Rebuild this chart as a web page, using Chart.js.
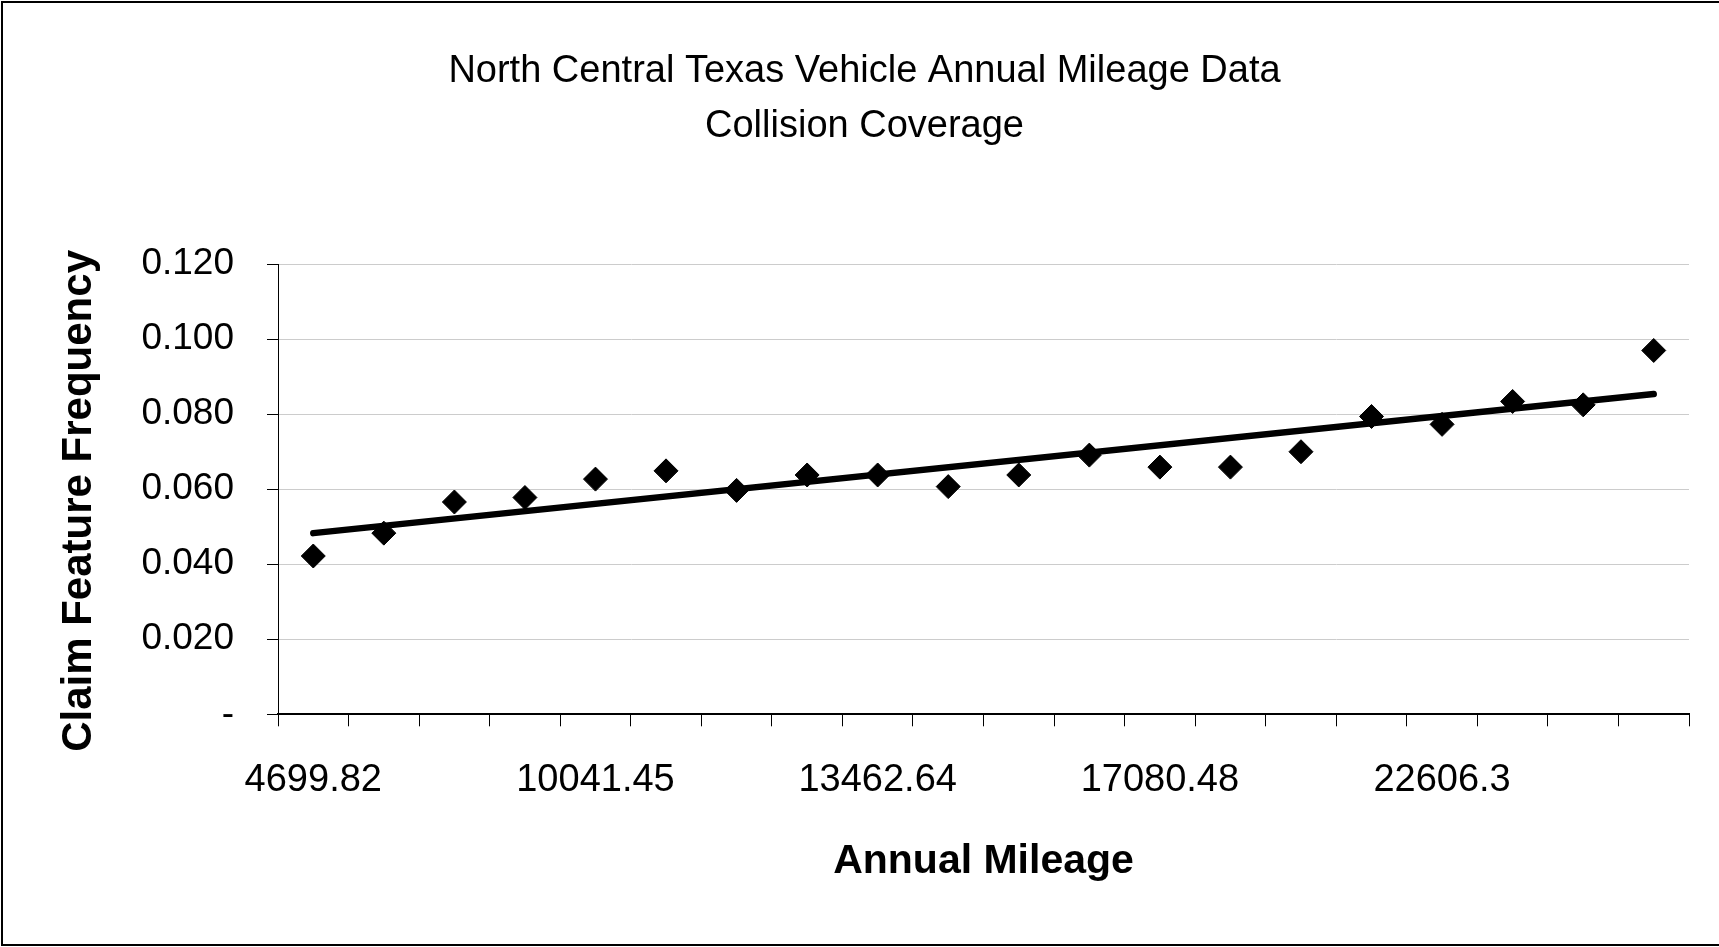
<!DOCTYPE html>
<html>
<head>
<meta charset="utf-8">
<title>North Central Texas Vehicle Annual Mileage Data</title>
<script src="https://cdn.jsdelivr.net/npm/chart.js@4/dist/chart.umd.min.js"></script>
<style>
  html, body { margin: 0; padding: 0; background: #fff; overflow: hidden; }
  #wrap { position: relative; width: 1719px; height: 947px; }
</style>
</head>
<body>
<div id="wrap"><canvas id="chartMileage"></canvas></div>
<script>
// values
const mileageLabels = [
  '4699.82', '', '', '', '10041.45', '', '', '', '13462.64', '',
  '', '', '17080.48', '', '', '', '22606.3', '', '', ''
];
const claimFrequency = [
  0.0422, 0.0483, 0.0566, 0.0578, 0.0627, 0.0649, 0.0597, 0.0638, 0.0638, 0.0607,
  0.0638, 0.0691, 0.0659, 0.0659, 0.0700, 0.0794, 0.0773, 0.0834, 0.0825, 0.0970
];
// linear trendline end points as drawn in the picture
const trendStart = 0.0483;
const trendEnd = 0.0854;
const titleLines = ['North Central Texas Vehicle Annual Mileage Data', 'Collision Coverage'];

const lastIdx = claimFrequency.length - 1;
const trendLine = claimFrequency.map((v, i) => (i === 0 ? trendStart : i === lastIdx ? trendEnd : null));

// outer frame like the original export (no right edge visible)
const frameBorder = {
  id: 'frameBorder',
  afterDraw(chart) {
    const ctx = chart.ctx;
    ctx.save();
    ctx.strokeStyle = '#000';
    ctx.lineWidth = 2;
    ctx.beginPath();
    ctx.moveTo(chart.width + 4, 2);
    ctx.lineTo(2, 2);
    ctx.lineTo(2, 945);
    ctx.lineTo(chart.width + 4, 945);
    ctx.stroke();
    ctx.restore();
  }
};

Chart.defaults.font.family = "'Liberation Sans', Arial, sans-serif";
Chart.defaults.color = '#000';

const ctx = document.getElementById('chartMileage').getContext('2d');
new Chart(ctx, {
  type: 'line',
  data: {
    labels: mileageLabels,
    datasets: [
      {
        label: 'Frequency',
        data: claimFrequency,
        showLine: false,
        pointStyle: 'rectRot',
        pointRadius: 12,
        pointBorderWidth: 1,
        backgroundColor: '#000',
        borderColor: '#000'
      },
      {
        label: 'Linear trend',
        data: trendLine,
        spanGaps: true,
        borderColor: '#000',
        borderWidth: 6.5,
        borderCapStyle: 'round',
        pointRadius: 0,
        fill: false
      }
    ]
  },
  options: {
    responsive: true,
    maintainAspectRatio: false,
    animation: false,
    // left padding shifts the centred title a bit right, as in the original
    layout: { padding: { left: 40, right: 30, top: 0, bottom: 0 } },
    plugins: {
      legend: { display: false },
      tooltip: { enabled: false },
      title: {
        display: true,
        text: titleLines,
        color: '#000',
        font: { size: 38, weight: 'normal', lineHeight: 1.45 },
        padding: { top: 44, bottom: 110 }
      }
    },
    scales: {
      x: {
        type: 'category',
        offset: true,
        grid: {
          offset: true,
          drawOnChartArea: false,
          tickLength: 12,
          tickColor: '#000'
        },
        border: { color: '#000', width: 2 },
        ticks: {
          autoSkip: false,
          maxRotation: 0,
          padding: 31,
          color: '#000',
          font: { size: 38 }
        },
        title: {
          display: true,
          text: 'Annual Mileage',
          color: '#000',
          font: { size: 41, weight: 'bold' },
          padding: { top: 0, bottom: 61 }
        },
        afterFit(scale) { scale.height = 232.7; }
      },
      y: {
        min: 0,
        max: 0.12,
        grid: {
          color: '#cccccc',
          tickColor: '#000',
          tickLength: 11
        },
        border: { color: '#000', width: 1 },
        ticks: {
          stepSize: 0.02,
          padding: 33,
          color: '#000',
          font: { size: 37 },
          callback: (v) => (v === 0 ? '-' : Number(v).toFixed(3))
        },
        title: {
          display: true,
          // trailing spaces nudge the rotated title down like the original
          text: 'Claim Feature Frequency  ',
          color: '#000',
          font: { size: 42, weight: 'bold' },
          padding: { top: 14, bottom: 0 }
        },
        afterFit(scale) { scale.width = 238; }
      }
    }
  },
  plugins: [frameBorder]
});
</script>
</body>
</html>
